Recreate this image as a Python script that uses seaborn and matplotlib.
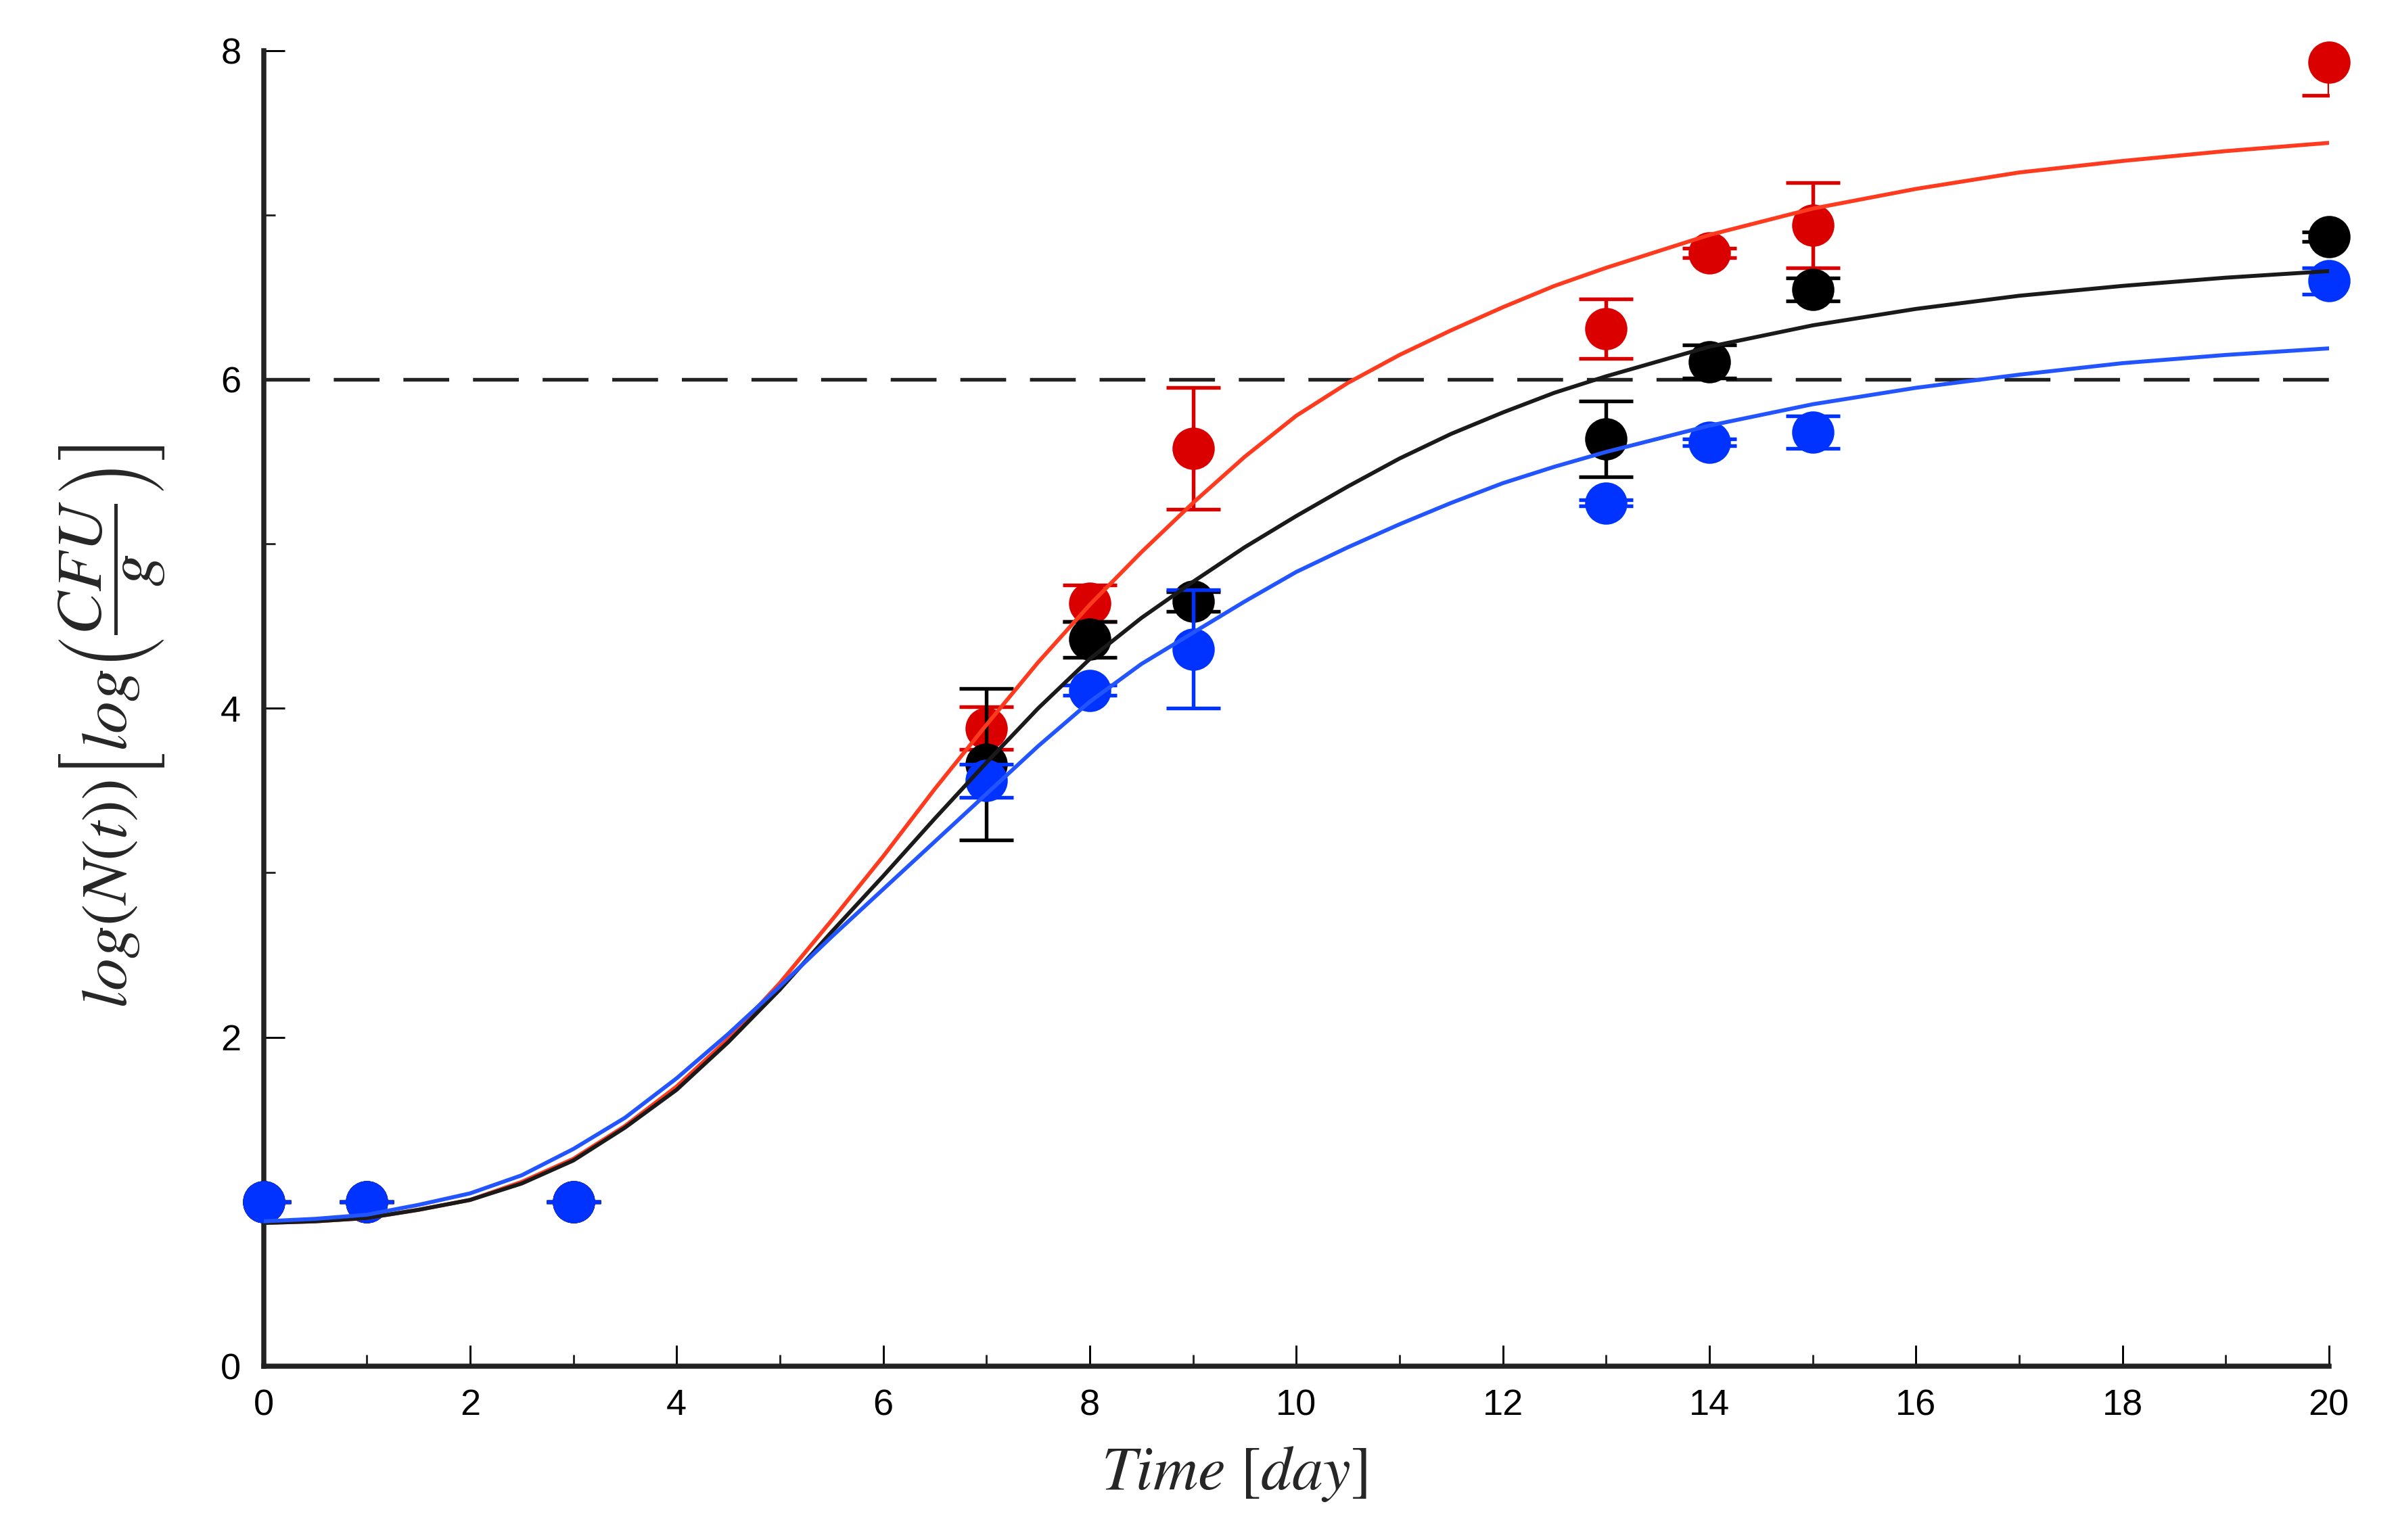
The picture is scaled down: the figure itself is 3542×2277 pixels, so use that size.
import numpy as np
import pandas as pd
import matplotlib
matplotlib.use("Agg")
import matplotlib.pyplot as plt
from matplotlib.ticker import MultipleLocator
import seaborn as sns

# ---------------- data ----------------
curve_days = [0, 0.5, 1, 1.5, 2, 2.5, 3, 3.5, 4, 4.5, 5, 5.5, 6, 6.5, 7, 7.5,
              8, 8.5, 9, 9.5, 10, 10.5, 11, 11.5, 12, 12.5, 13,
              14, 15, 16, 17, 18, 19, 20]
red_curve = [0.87, 0.88, 0.90, 0.95, 1.01, 1.12, 1.26, 1.46, 1.70, 1.99, 2.33,
             2.71, 3.10, 3.51, 3.90, 4.28, 4.63, 4.95, 5.25, 5.53, 5.78, 5.98,
             6.15, 6.30, 6.44, 6.57, 6.68, 6.88, 7.04, 7.16, 7.26, 7.33, 7.39, 7.44]
black_curve = [0.87, 0.88, 0.90, 0.95, 1.01, 1.11, 1.25, 1.45, 1.68, 1.97, 2.29,
               2.64, 2.98, 3.33, 3.67, 4.00, 4.30, 4.55, 4.77, 4.98, 5.17, 5.35,
               5.52, 5.67, 5.80, 5.92, 6.02, 6.20, 6.33, 6.43, 6.51, 6.57, 6.62, 6.66]
blue_curve = [0.88, 0.895, 0.92, 0.98, 1.05, 1.16, 1.32, 1.51, 1.75, 2.02, 2.31,
              2.61, 2.90, 3.19, 3.48, 3.77, 4.04, 4.27, 4.46, 4.65, 4.83, 4.98,
              5.12, 5.25, 5.37, 5.47, 5.56, 5.72, 5.85, 5.95, 6.03, 6.10, 6.15, 6.19]

obs_days = [0, 1, 3, 7, 8, 9, 13, 14, 15, 20]
red_obs = [1.0, 1.0, 1.0, 3.88, 4.64, 5.58, 6.31, 6.77, 6.94, 7.93]
red_err = [0.0, 0.0, 0.0, 0.13, 0.11, 0.37, 0.18, 0.03, 0.26, 0.20]
black_obs = [1.0, 1.0, 1.0, 3.66, 4.42, 4.65, 5.64, 6.11, 6.55, 6.87]
black_err = [0.0, 0.0, 0.0, 0.46, 0.11, 0.06, 0.23, 0.10, 0.07, 0.03]
blue_obs = [1.0, 1.0, 1.0, 3.56, 4.11, 4.36, 5.25, 5.62, 5.68, 6.60]
blue_err = [0.0, 0.0, 0.0, 0.10, 0.03, 0.36, 0.02, 0.02, 0.10, 0.08]

threshold = 6.0

x_ticks = list(range(0, 21, 2))
y_ticks = list(range(0, 9, 2))

# ---------------- style ----------------
sns.set_theme(style="white")
plt.rcParams['font.family'] = ['Liberation Sans', 'DejaVu Sans']
plt.rcParams['mathtext.fontset'] = 'stix'

marker_colors = {"red": "#DA0000", "black": "#000000", "blue": "#0033FF"}
line_colors = {"red": "#FF3B1F", "black": "#1a1a1a", "blue": "#2255FF"}

fig = plt.figure(figsize=(3542 / 300, 2277 / 300), dpi=300)
ax = fig.add_axes([0.110, 0.113, 0.862, 0.854])

# observations with error bars
z = 2
for name, obs, err in [("red", red_obs, red_err),
                       ("black", black_obs, black_err),
                       ("blue", blue_obs, blue_err)]:
    c = marker_colors[name]
    ax.errorbar(obs_days, obs, yerr=err, fmt='none', ecolor=c,
                elinewidth=1.3, capsize=9.5, capthick=1.3, zorder=z)
    sns.scatterplot(x=obs_days, y=obs, color=c, s=225, linewidth=0,
                    ax=ax, zorder=z + 0.5, clip_on=False, legend=False)
    z += 1

# fitted curves
n = len(curve_days)
curves = pd.DataFrame({
    "day": curve_days * 3,
    "value": red_curve + black_curve + blue_curve,
    "series": ["red"] * n + ["black"] * n + ["blue"] * n,
})
sns.lineplot(data=curves, x="day", y="value", hue="series",
             palette=line_colors, linewidth=1.4, legend=False, ax=ax,
             zorder=6, sort=False)

# threshold
ax.axhline(threshold, color="#222222", lw=1.3, dashes=(12.5, 6.5), zorder=1)

# axes
ax.set_xlim(0, 20)
ax.set_ylim(0, 8)
ax.set_xticks(x_ticks)
ax.set_yticks(y_ticks)
ax.xaxis.set_minor_locator(MultipleLocator(1))
ax.yaxis.set_minor_locator(MultipleLocator(1))
ax.tick_params(which='major', direction='in', length=7.5, width=0.7,
               labelsize=13, pad=8, colors='black')
ax.tick_params(which='minor', direction='in', length=4, width=0.7)
ax.tick_params(axis='both', which='both', bottom=True, left=True,
               top=False, right=False)
for s in ["top", "right"]:
    ax.spines[s].set_visible(False)
for s in ["left", "bottom"]:
    ax.spines[s].set_linewidth(1.8)
    ax.spines[s].set_color("#222222")

ax.set_xlabel(r"$Time\ [day]$", fontsize=22)
ax.set_ylabel(r"$log(N(t))\left[log\left(\dfrac{CFU}{g}\right)\right]$", fontsize=23)
ax.xaxis.set_label_coords(0.47, -0.060)
ax.yaxis.set_label_coords(-0.047, 0.486)

fig.savefig("out.png", dpi=300)
